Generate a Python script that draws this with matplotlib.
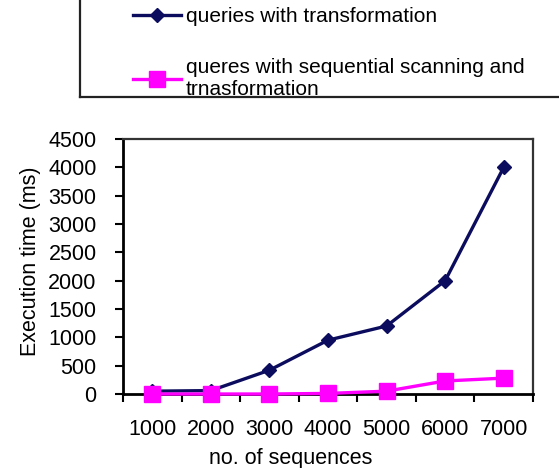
import numpy as np
import matplotlib
matplotlib.use("Agg")
from matplotlib import pyplot as plt
from matplotlib.lines import Line2D

# Execution time vs number of sequences
SEQUENCES = [1000, 2000, 3000, 4000, 5000, 6000, 7000]
TIME_TRANSFORM = [50, 60, 420, 950, 1200, 2000, 4000]
TIME_SEQ_SCAN = [0, 0, 0, 10, 50, 230, 280]
Y_TICKS = [0, 500, 1000, 1500, 2000, 2500, 3000, 3500, 4000, 4500]

LABEL_TRANSFORM = "queries with transformation"
LABEL_SEQ_SCAN = "queres with sequential scanning and\ntrnasformation"

NAVY = "#0c0c5e"
MAGENTA = "#ff00ff"

plt.rcParams.update({
    "font.family": ["Liberation Sans", "DejaVu Sans"],
    "font.size": 15.5,
})

W, H = 559, 468
fig = plt.figure(figsize=(W / 100, H / 100), dpi=100)
ax = fig.add_axes([123 / W, 1 - 394 / H, 410 / W, 255 / H])

pos = np.arange(1, len(SEQUENCES) + 1)
l1, = ax.plot(pos, TIME_TRANSFORM, color=NAVY, lw=2.4, marker="D", markersize=7.5,
              label=LABEL_TRANSFORM, clip_on=False, zorder=3)
l2, = ax.plot(pos, TIME_SEQ_SCAN, color=MAGENTA, lw=2.4, marker="s", markersize=11,
              label=LABEL_SEQ_SCAN, clip_on=False, zorder=4)

ax.set_xlim(0.5, len(SEQUENCES) + 0.5)
ax.set_ylim(0, 4500)
ax.set_yticks(Y_TICKS)
ax.set_xticks(pos)
ax.set_xticklabels([str(s) for s in SEQUENCES])
ax.set_xticks(np.arange(0.5, len(SEQUENCES) + 1, 1.0), minor=True)
ax.tick_params(axis="x", which="major", length=0, pad=18)
ax.tick_params(axis="x", which="minor", length=6, width=1.5, direction="out")
ax.tick_params(axis="y", length=6, width=1.5, direction="out", pad=13)

for side in ["left", "bottom"]:
    ax.spines[side].set_linewidth(2.0)
    ax.spines[side].set_color("black")
for side in ["top", "right"]:
    ax.spines[side].set_linewidth(1.6)
    ax.spines[side].set_color("#333333")

ax.set_ylabel("Execution time (ms)")
ax.yaxis.set_label_coords(-0.20, 0.52)
ax.set_xlabel("no. of sequences")
ax.xaxis.set_label_coords(0.41, -0.21)

# legend box, only its left and bottom edges fall inside the figure
fig.add_artist(Line2D([80 / W, 80 / W], [1, 1 - 97 / H], color="#222222", lw=1.6))
fig.add_artist(Line2D([80 / W, 1], [1 - 97 / H, 1 - 97 / H], color="#222222", lw=1.6))

fig.legend(handles=[l1, l2], loc="upper left", bbox_to_anchor=(133 / W, 1 - 7 / H),
           frameon=False, borderpad=0, borderaxespad=0, handlelength=2.3,
           handletextpad=0.25, labelspacing=1.55, fontsize=15)

fig.savefig("out.png", dpi=100)
